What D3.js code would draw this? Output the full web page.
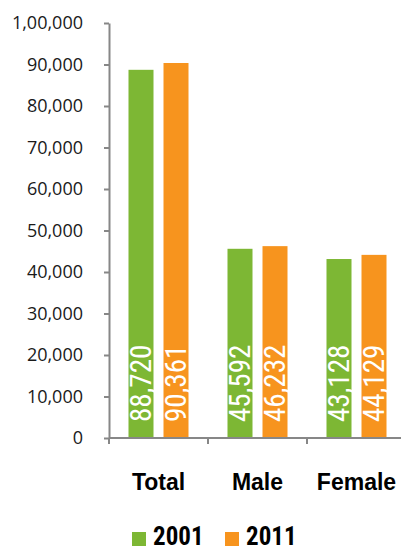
<!DOCTYPE html>
<html>
<head>
<meta charset="utf-8">
<script src="https://cdn.jsdelivr.net/npm/d3@7"></script>
<style>
  body { margin: 0; background: #fff; }
  svg { display: block; }
</style>
</head>
<body>
<div id="chart"></div>
<script>
// data
const categories = ['Total', 'Male', 'Female']
const years = ['2001', '2011']
const values2001 = [88720, 45592, 43128]
const values2011 = [90361, 46232, 44129]
const tickValues = [0, 10000, 20000, 30000, 40000, 50000, 60000, 70000, 80000, 90000, 100000]
const tickLabels = ['0', '10,000', '20,000', '30,000', '40,000', '50,000', '60,000', '70,000', '80,000', '90,000', '1,00,000']
const barLabels2001 = ['88,720', '45,592', '43,128']
const barLabels2011 = ['90,361', '46,232', '44,129']

const colors = { '2001': '#7db734', '2011': '#f7941e' }

const width = 401
const height = 551

const svg = d3.select('#chart')
  .append('svg')
  .attr('width', width)
  .attr('height', height)

const x = d3.scaleBand()
  .domain(categories)
  .range([109, 406])

// two bars per category, 25px wide with a 10px gap
const xInner = d3.scaleBand()
  .domain(years)
  .range([0, x.bandwidth()])
  .paddingInner(0.2857)
  .paddingOuter(0.557)

const y = d3.scaleLinear()
  .domain([0, 100000])
  .range([438, 23])

const rows = categories.map((c, i) => ({
  cat: c,
  bars: [
    { year: '2001', value: values2001[i], label: barLabels2001[i] },
    { year: '2011', value: values2011[i], label: barLabels2011[i] }
  ]
}))

// bars
const groups = svg.selectAll('.cat')
  .data(rows)
  .enter()
  .append('g')
  .attr('class', 'cat')
  .attr('transform', d => 'translate(' + x(d.cat) + ',0)')

groups.selectAll('rect')
  .data(d => d.bars)
  .enter()
  .append('rect')
  .attr('x', d => xInner(d.year))
  .attr('y', d => y(d.value))
  .attr('width', xInner.bandwidth())
  .attr('height', d => y(0) - y(d.value))
  .attr('fill', d => colors[d.year])

// value labels inside the bars, rotated
groups.selectAll('.val')
  .data(d => d.bars)
  .enter()
  .append('text')
  .attr('class', 'val')
  .attr('transform', d => 'translate(' + (xInner(d.year) + xInner.bandwidth() / 2) + ',' + (y(0) - 16) + ') rotate(-90)')
  .attr('dy', '0.36em')
  .attr('fill', '#fff')
  .style('font-family', '"Liberation Sans Narrow", "Roboto Condensed", "DejaVu Sans Condensed", sans-serif')
  .style('font-stretch', 'condensed')
  .style('font-size', '29px')
  .text(d => d.label)

// y axis
const yAxis = d3.axisLeft(y)
  .tickValues(tickValues)
  .tickFormat((d, i) => tickLabels[i])
  .tickSize(5)
  .tickSizeOuter(0)
  .tickPadding(21)

const gy = svg.append('g')
  .attr('transform', 'translate(109,0)')
  .call(yAxis)

gy.select('.domain').attr('stroke', '#878787').attr('stroke-width', 2)
gy.selectAll('.tick line').attr('stroke', '#878787').attr('stroke-width', 2)
gy.selectAll('.tick text')
  .attr('fill', '#1a1a1a')
  .style('font-family', '"Open Sans", sans-serif')
  .style('font-size', '18px')

// x axis: ticks sit at the category boundaries
const gx = svg.append('g')
  .attr('transform', 'translate(0,438)')

gx.append('line')
  .attr('x1', 109)
  .attr('x2', 406)
  .attr('stroke', '#878787')
  .attr('stroke-width', 2)

gx.selectAll('.bound')
  .data(categories)
  .enter()
  .append('line')
  .attr('x1', d => x(d))
  .attr('x2', d => x(d))
  .attr('y1', 0)
  .attr('y2', 6)
  .attr('stroke', '#878787')
  .attr('stroke-width', 2)

gx.selectAll('.catlabel')
  .data(categories)
  .enter()
  .append('text')
  .attr('x', d => x(d) + x.bandwidth() / 2)
  .attr('y', 52)
  .attr('text-anchor', 'middle')
  .attr('fill', '#000')
  .style('font-family', '"Liberation Sans", Arial, sans-serif')
  .style('font-weight', 'bold')
  .style('font-size', '23px')
  .text(d => d)

// legend
const legendX = [132, 225]
const legend = svg.selectAll('.legend')
  .data(years)
  .enter()
  .append('g')
  .attr('class', 'legend')
  .attr('transform', (d, i) => 'translate(' + legendX[i] + ',532)')

legend.append('rect')
  .attr('width', 14)
  .attr('height', 14)
  .attr('fill', d => colors[d])

legend.append('text')
  .attr('x', 21)
  .attr('y', 13)
  .attr('fill', '#000')
  .style('font-family', '"Liberation Sans Narrow", "Roboto Condensed", "DejaVu Sans Condensed", sans-serif')
  .style('font-stretch', 'condensed')
  .style('font-weight', 'bold')
  .style('font-size', '25px')
  .text(d => d)
</script>
</body>
</html>
